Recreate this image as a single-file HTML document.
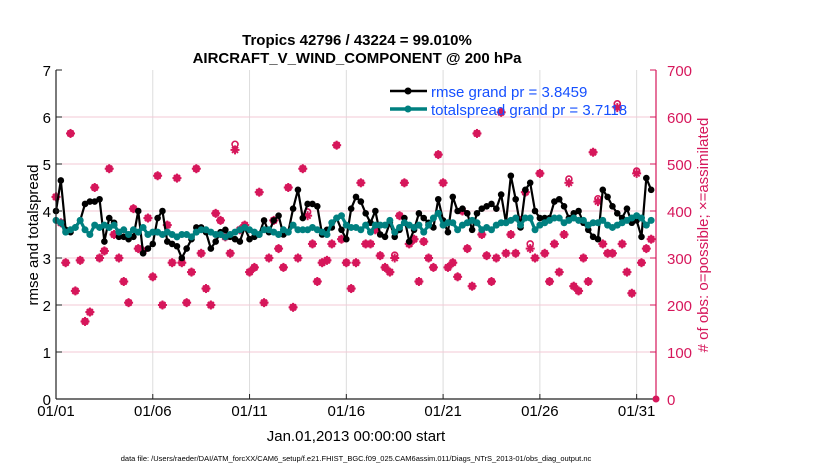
<!DOCTYPE html>
<html><head><meta charset="utf-8"><style>
body{margin:0;background:#fff;}
svg{display:block;font-family:"Liberation Sans",sans-serif;}
</style></head><body>
<svg id="chart" width="830" height="470">
<text x="357" y="45" text-anchor="middle" font-size="15" font-weight="bold">Tropics 42796 / 43224 = 99.010%</text>
<text x="357" y="63" text-anchor="middle" font-size="15" font-weight="bold">AIRCRAFT_V_WIND_COMPONENT @ 200 hPa</text>
<g id="grid"></g>
<g id="obs"></g>
<g id="series"></g>
<g id="axes"></g>
<text transform="translate(38,235) rotate(-90)" text-anchor="middle" font-size="15">rmse and totalspread</text>
<text transform="translate(708,235) rotate(-90)" text-anchor="middle" font-size="15" fill="#d6175b"># of obs: o=possible; ×=assimilated</text>
<text x="356" y="441" text-anchor="middle" font-size="15">Jan.01,2013 00:00:00 start</text>
<text x="356" y="461" text-anchor="middle" font-size="7.5">data file: /Users/raeder/DAI/ATM_forcXX/CAM6_setup/f.e21.FHIST_BGC.f09_025.CAM6assim.011/Diags_NTrS_2013-01/obs_diag_output.nc</text>
<g>
<line x1="390" y1="91" x2="427" y2="91" stroke="#000" stroke-width="2.5"/><circle cx="408" cy="91" r="3.5" fill="#000"/>
<text x="431" y="97" font-size="15" fill="#1550ff">rmse grand pr = 3.8459</text>
<line x1="390" y1="109" x2="427" y2="109" stroke="#008080" stroke-width="3.5"/><circle cx="408" cy="109" r="3.5" fill="#008080"/>
<text x="431" y="115" font-size="15" fill="#1550ff">totalspread grand pr = 3.7118</text>
</g>
</svg>
<script>
const xTickLabels=["01/01","01/06","01/11","01/16","01/21","01/26","01/31"];
const xTickDays=[0,5,10,15,20,25,30];
const yLeftTicks=[0,1,2,3,4,5,6,7];
const yRightTicks=[0,100,200,300,400,500,600,700];
const rmse=[4.0,4.65,3.6,3.55,3.65,3.8,4.15,4.2,4.2,4.25,
3.35,3.85,3.75,3.45,3.45,3.4,3.45,4.0,3.1,3.2,
3.3,3.85,4.0,3.35,3.3,3.25,3.0,3.2,3.4,3.65,
3.65,3.55,3.2,3.35,3.55,3.6,3.45,3.4,3.35,3.65,
3.4,3.45,3.5,3.8,3.55,3.8,3.9,3.5,3.55,4.05,
4.45,3.85,4.15,4.15,4.1,3.5,3.6,3.65,3.85,3.6,
3.4,4.05,4.3,4.2,3.95,3.75,4.0,3.5,3.45,3.75,
3.45,3.6,3.85,3.35,3.6,3.95,3.85,3.75,3.65,4.25,
3.8,3.55,4.3,4.0,4.05,3.95,3.6,3.95,4.05,4.1,
4.15,4.05,4.35,3.75,4.75,4.25,3.65,4.45,4.6,4.0,
3.85,3.85,3.85,4.2,4.25,4.1,3.85,3.95,4.0,3.75,
3.6,3.45,3.4,4.45,4.3,4.1,3.95,3.85,4.05,3.75,
3.8,3.45,4.7,4.45];
const spread=[3.8,3.75,3.55,3.6,3.65,3.8,3.6,3.5,3.7,3.65,
3.7,3.65,3.7,3.55,3.6,3.5,3.6,3.55,3.65,3.5,
3.55,3.55,3.5,3.55,3.5,3.45,3.5,3.5,3.45,3.55,
3.6,3.6,3.55,3.5,3.5,3.45,3.5,3.55,3.6,3.65,
3.6,3.55,3.5,3.6,3.6,3.55,3.5,3.6,3.55,3.7,
3.6,3.6,3.6,3.65,3.6,3.55,3.5,3.75,3.85,3.9,
3.7,3.65,3.65,3.6,3.7,3.55,3.7,3.7,3.7,3.8,
3.55,3.65,3.75,3.7,3.65,3.7,3.55,3.7,3.85,3.95,
3.7,3.75,3.75,3.6,3.7,3.75,3.8,3.75,3.6,3.65,
3.6,3.7,3.75,3.75,3.8,3.85,3.7,3.85,3.85,3.6,
3.7,3.75,3.8,3.85,3.85,3.75,3.8,3.85,3.8,3.8,
3.7,3.75,3.75,3.8,3.7,3.65,3.7,3.75,3.8,3.85,
3.9,3.85,3.7,3.8];
const assimilated=[430,375,290,565,230,295,165,185,450,300,
315,490,350,300,250,205,405,320,315,385,
260,475,200,370,290,470,290,205,270,490,
310,235,200,395,380,345,310,530,360,370,
270,280,440,205,300,380,320,280,450,195,
300,490,390,330,250,290,295,330,540,340,
290,235,290,460,330,330,360,305,280,270,
300,390,460,330,340,250,335,300,280,520,
460,280,290,260,400,320,240,565,350,305,
250,300,610,310,350,310,380,440,320,300,
480,310,250,330,270,350,460,240,230,300,
250,525,420,330,310,310,620,330,270,225,
480,290,320,340];
const possibleExtra={37:12,52:8,70:6,98:10,106:8,112:6,116:8,120:5};
const X0=56,X1=656,Y0=399,Y1=70,DAYS=31;
const xs=d=>X0+(X1-X0)*d/DAYS;
const yl=v=>Y0-(Y0-Y1)*v/7;
const yr=v=>Y0-(Y0-Y1)*v/700;
const NS="http://www.w3.org/2000/svg";
function mk(tag,attrs,parent){const e=document.createElementNS(NS,tag);for(const k in attrs)e.setAttribute(k,attrs[k]);parent.appendChild(e);return e;}
const grid=document.getElementById('grid'),axes=document.getElementById('axes'),series=document.getElementById('series'),obs=document.getElementById('obs');
xTickDays.forEach((d,i)=>{
 const l=mk('line',{x1:xs(d),x2:xs(d),y1:Y1,y2:Y0,stroke:'#dcdcdc','stroke-width':1},grid);
 
 
 const t=mk('text',{x:xs(d),y:Y0+17,'text-anchor':'middle','font-size':15},axes);
 t.textContent=xTickLabels[i];
 
 
 mk('line',{x1:xs(d),x2:xs(d),y1:Y0,y2:Y0-5,stroke:'#222'},axes);
});
yRightTicks.forEach(v=>{
 if(v>0&&v<700){const g=mk('line',{x1:X0,x2:X1,y1:yr(v),y2:yr(v),stroke:'#f3c9d6','stroke-width':1},grid);
 
 }
 const t=mk('text',{x:X1+11,y:yr(v)+6,'font-size':15,fill:'#d6175b'},axes);
 t.textContent=v;
 
 
 mk('line',{x1:X1,x2:X1-6,y1:yr(v),y2:yr(v),stroke:'#d6175b'},axes);
});
yLeftTicks.forEach(v=>{
 const t=mk('text',{x:X0-5,y:yl(v)+6,'text-anchor':'end','font-size':15},axes);
 t.textContent=v;
 
 
 mk('line',{x1:X0,x2:X0+6,y1:yl(v),y2:yl(v),stroke:'#222'},axes);
});
mk('line',{x1:X0,x2:X0,y1:Y1,y2:Y0,stroke:'#222','stroke-width':1.2},axes);
mk('line',{x1:X0,x2:X1,y1:Y0,y2:Y0,stroke:'#222','stroke-width':1.2},axes);
mk('line',{x1:X1,x2:X1,y1:Y1,y2:Y0,stroke:'#d6175b','stroke-width':1.2},axes);
const endDot=mk('circle',{cx:X1,cy:Y0,r:3.5,fill:'#d6175b'},axes);


const dayOf=i=>i*0.25;
assimilated.forEach((v,i)=>{
 const x=xs(dayOf(i)),y=yr(v);
 const g=mk('g',{stroke:'#d6175b','stroke-width':2,fill:'none'},obs);
 
 
 mk('line',{x1:x-4.5,x2:x+4.5,y1:y,y2:y},g);
 mk('line',{x1:x,x2:x,y1:y-4.5,y2:y+4.5},g);
 mk('line',{x1:x-3,x2:x+3,y1:y-3,y2:y+3},g);
 mk('line',{x1:x-3,x2:x+3,y1:y+3,y2:y-3},g);
 const p=v+(possibleExtra[i]||0);
 const c=mk('circle',{cx:x,cy:yr(p),r:3,stroke:'#d6175b','stroke-width':1.6,fill:'none'},obs);
 
 
});
function drawLine(vals,color,w,r,name){
 const pts=vals.map((v,i)=>xs(dayOf(i))+','+yl(v)).join(' ');
 const pl=mk('polyline',{points:pts,fill:'none',stroke:color,'stroke-width':w,'stroke-linejoin':'round'},series);
 
 
 vals.forEach((v,i)=>{
  const c=mk('circle',{cx:xs(dayOf(i)),cy:yl(v),r:r,fill:color},series);
  
  
 });
}
drawLine(rmse,'#000',2.2,3.3,'rmse');
drawLine(spread,'#008080',3.2,3.5,'totalspread');
</script>
</body></html>
